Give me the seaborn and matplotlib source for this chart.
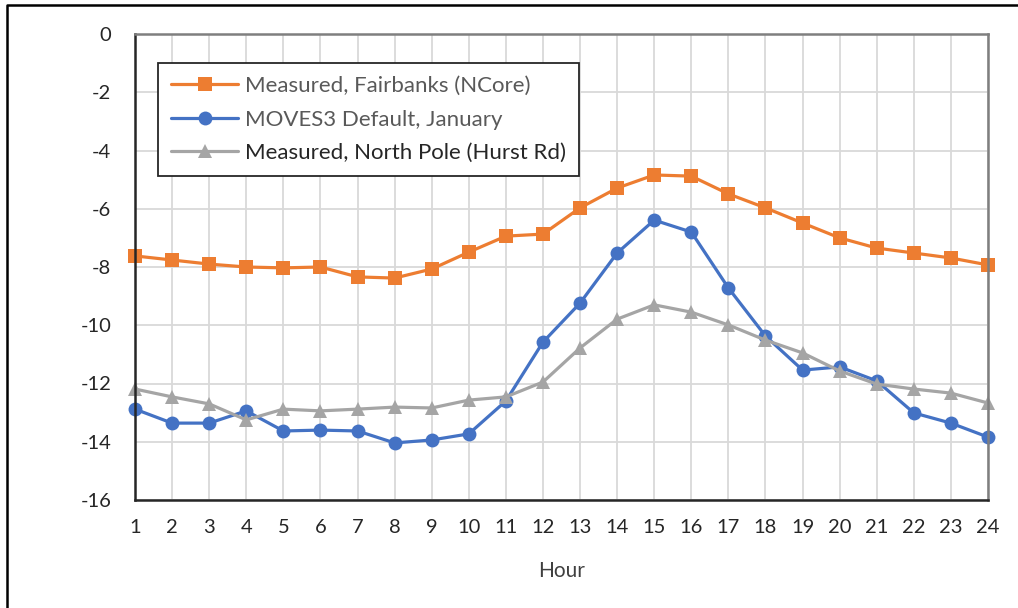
import matplotlib
matplotlib.use("Agg")
import matplotlib.pyplot as plt
import seaborn as sns
import pandas as pd
from matplotlib.lines import Line2D

hours = list(range(1, 25))
fairbanks = [-7.62, -7.76, -7.90, -8.00, -8.03, -8.00, -8.34, -8.38, -8.07, -7.49, -6.94, -6.87,
             -5.97, -5.29, -4.84, -4.88, -5.49, -5.97, -6.49, -7.00, -7.35, -7.52, -7.69, -7.93]
moves3 = [-12.88, -13.36, -13.36, -12.94, -13.63, -13.60, -13.63, -14.04, -13.94, -13.73, -12.60, -10.58,
          -9.24, -7.52, -6.39, -6.80, -8.72, -10.37, -11.54, -11.43, -11.91, -13.01, -13.36, -13.84]
north_pole = [-12.19, -12.46, -12.70, -13.25, -12.88, -12.94, -12.88, -12.81, -12.84, -12.57, -12.46, -11.95,
              -10.78, -9.79, -9.30, -9.55, -9.99, -10.51, -10.95, -11.57, -12.02, -12.19, -12.33, -12.67]
series_names = ["Measured, Fairbanks (NCore)", "MOVES3 Default, January", "Measured, North Pole (Hurst Rd)"]
y_ticks = list(range(-16, 1, 2))

df = pd.DataFrame({"Hour": hours,
                   series_names[0]: fairbanks,
                   series_names[1]: moves3,
                   series_names[2]: north_pole})
long = df.melt(id_vars="Hour", var_name="series", value_name="value")

sns.set_style("white")
plt.rcParams["font.family"] = ["Lato", "DejaVu Sans"]
plt.rcParams["axes.unicode_minus"] = False

fig = plt.figure(figsize=(10.18, 6.08), dpi=100)
ax = fig.add_axes([135 / 1018, 1 - 500 / 608, 853 / 1018, 466 / 608])

palette = {series_names[0]: "#ED7D31", series_names[1]: "#4472C4", series_names[2]: "#A5A5A5"}
markers = {series_names[0]: "s", series_names[1]: "o", series_names[2]: "^"}
sns.lineplot(data=long, x="Hour", y="value", hue="series", style="series",
             palette=palette, markers=markers, dashes=False, ax=ax,
             linewidth=2.3, markersize=10, markeredgewidth=0, clip_on=False, legend=False)

ax.set_xlim(1, 24)
ax.set_ylim(-16, 0)
ax.set_xticks(hours)
ax.set_yticks(y_ticks)
ax.grid(True, color="#D9D9D9", linewidth=1.3)
ax.set_axisbelow(True)
ax.tick_params(length=0, labelsize=14.5, labelcolor="#262626")
ax.tick_params(axis="y", pad=17)
ax.tick_params(axis="x", pad=14)
ax.set_xlabel("Hour", fontsize=15, color="#404040", labelpad=18)
ax.set_ylabel("")
for side in ["left", "bottom"]:
    ax.spines[side].set_color("#262626")
    ax.spines[side].set_linewidth(1.8)
for side in ["top", "right"]:
    ax.spines[side].set_color("#7F7F7F")
    ax.spines[side].set_linewidth(1.8)

handles = [Line2D([], [], color=palette[n], marker=markers[n], markersize=10,
                  markeredgewidth=0, linewidth=2.3) for n in series_names]
leg = ax.legend(handles, series_names, loc="upper left", bbox_to_anchor=(0.027, 0.938),
                borderaxespad=0, fontsize=16, frameon=True, fancybox=False,
                handlelength=3.0, handletextpad=0.3, labelspacing=0.6, borderpad=0.6)
leg.get_frame().set_edgecolor("#262626")
leg.get_frame().set_linewidth(1.3)
leg.get_frame().set_alpha(1)
text_colors = ["#595959", "#595959", "#262626"]
for t, c in zip(leg.get_texts(), text_colors):
    t.set_color(c)

# outer chart border (top and left edges visible)
fig.add_artist(Line2D([7 / 1018, 7 / 1018, 1.0], [0.0, 1 - 5 / 608, 1 - 5 / 608],
                      transform=fig.transFigure, color="black", linewidth=1.8))

fig.savefig("out.png", dpi=100)
